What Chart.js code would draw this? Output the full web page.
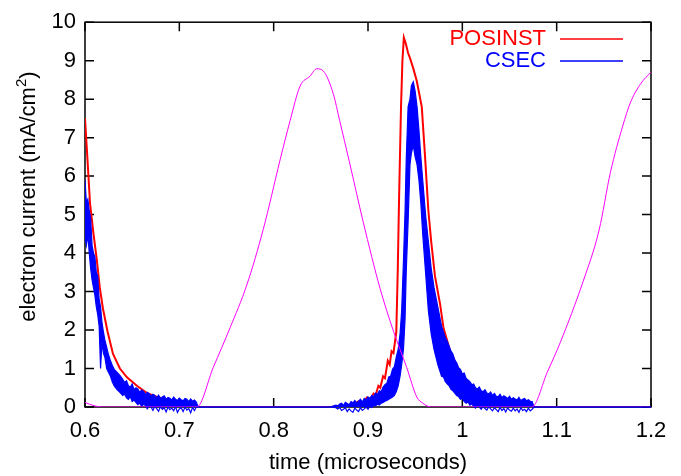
<!DOCTYPE html>
<html>
<head>
<meta charset="utf-8">
<script src="https://cdn.jsdelivr.net/npm/chart.js@4.4.0/dist/chart.umd.min.js"></script>
<style>
  html, body { margin: 0; padding: 0; background: #fff; }
  #wrap { width: 681px; height: 476px; }
</style>
</head>
<body>
<div id="wrap"><canvas id="chart1" width="681" height="476"></canvas></div>
<script>
// x ticks / y ticks
const xTicks = [0.6, 0.7, 0.8, 0.9, 1.0, 1.1, 1.2];
const yTicks = [0, 1, 2, 3, 4, 5, 6, 7, 8, 9, 10];

// POSINST (red)
const posinstTime = [0.6, 0.6027, 0.6053, 0.609, 0.6124, 0.6157, 0.619, 0.624, 0.6297, 0.637, 0.6445, 0.655, 0.6657, 0.678, 0.69, 0.7, 0.7145, 0.72,
  0.86, 0.875, 0.885, 0.89, 0.895, 0.899, 0.902, 0.906, 0.908, 0.911, 0.913, 0.916, 0.918, 0.921, 0.923, 0.925, 0.927, 0.93, 0.9315, 0.933, 0.935, 0.9365, 0.938,
  0.94, 0.9425, 0.9446, 0.948, 0.9517, 0.957, 0.9605, 0.964, 0.967, 0.971, 0.9765, 0.98, 0.987, 0.9977, 1.005, 1.0118, 1.02, 1.0295, 1.047, 1.068, 1.076, 1.2];
const posinstValue = [7.5, 6.4, 5.3, 4.5, 3.85, 3.1, 2.56, 1.95, 1.38, 1.0, 0.77, 0.55, 0.36, 0.25, 0.18, 0.13, 0.1, 0,
  0, 0.03, 0.08, 0.15, 0.12, 0.25, 0.2, 0.35, 0.3, 0.55, 0.5, 0.8, 0.75, 1.2, 1.1, 1.45, 1.4, 1.95, 3.5, 5.5, 7.8, 9.0, 9.6,
  9.45, 9.2, 9.06, 8.8, 8.47, 7.8, 6.5, 5.1, 4.3, 3.4, 2.66, 2.06, 1.46, 0.9, 0.68, 0.48, 0.36, 0.27, 0.18, 0.09, 0, 0];

// CSEC (blue), noisy band: upper and lower edge
const csecTime = [0.6, 0.6015, 0.603, 0.6045, 0.606, 0.6075, 0.609, 0.6105, 0.612, 0.6135, 0.615, 0.6165, 0.618, 0.6195, 0.621, 0.623, 0.625, 0.627, 0.629, 0.631,
  0.634, 0.637,
  0.640, 0.642, 0.644, 0.646, 0.648, 0.650, 0.652, 0.654, 0.656, 0.658, 0.660, 0.662, 0.664, 0.666, 0.668, 0.670, 0.672, 0.674, 0.676, 0.678,
  0.680, 0.682, 0.684, 0.686, 0.688, 0.690, 0.692, 0.694, 0.696, 0.698, 0.700, 0.702, 0.704, 0.706, 0.708, 0.710, 0.712, 0.714, 0.716, 0.718, 0.720,
  0.860, 0.866, 0.868, 0.870, 0.872, 0.874, 0.876, 0.878, 0.880, 0.882, 0.884, 0.886, 0.888, 0.890, 0.892, 0.894, 0.896, 0.898,
  0.900, 0.902, 0.904, 0.906, 0.908, 0.910, 0.912, 0.914, 0.916, 0.918, 0.920, 0.922, 0.924, 0.926, 0.928, 0.930,
  0.932, 0.934, 0.9357, 0.9376, 0.9393, 0.9405, 0.9425,
  0.9445, 0.946, 0.948, 0.95, 0.952, 0.954, 0.956, 0.958, 0.961, 0.964, 0.967, 0.97, 0.974, 0.978,
  0.980, 0.982, 0.984, 0.986, 0.988, 0.990, 0.992, 0.994, 0.996, 0.998, 1.000, 1.002, 1.004, 1.006, 1.008, 1.010, 1.012, 1.014, 1.016, 1.018,
  1.020, 1.022, 1.024, 1.026, 1.028, 1.030, 1.032, 1.034, 1.036, 1.038, 1.040, 1.042, 1.044, 1.046, 1.048, 1.050, 1.052, 1.054, 1.056, 1.058,
  1.060, 1.062, 1.064, 1.066, 1.068, 1.070, 1.072, 1.074, 1.076, 1.2];
const csecHigh = [5.9, 5.3, 5.4, 5.1, 4.9, 4.2, 4.0, 3.9, 3.5, 3.4, 2.8, 2.6, 2.2, 1.95, 1.75, 1.55, 1.35, 1.2, 1.08, 0.98,
  0.9, 0.82,
  0.72, 0.64, 0.68, 0.55, 0.52, 0.6, 0.45, 0.5, 0.47, 0.38, 0.44, 0.41, 0.32, 0.38, 0.35, 0.28, 0.33, 0.3, 0.24, 0.31,
  0.22, 0.26, 0.29, 0.2, 0.25, 0.23, 0.18, 0.26, 0.2, 0.17, 0.23, 0.19, 0.16, 0.22, 0.2, 0.14, 0.21, 0.15, 0.18, 0.13, 0,
  0, 0.05, 0.03, 0.08, 0.1, 0.04, 0.12, 0.09, 0.06, 0.14, 0.11, 0.17, 0.1, 0.15, 0.2, 0.13, 0.22, 0.18,
  0.26, 0.22, 0.3, 0.27, 0.36, 0.33, 0.42, 0.4, 0.52, 0.58, 0.62, 0.78, 0.8, 0.98, 1.05, 1.3,
  1.5, 1.9, 2.5, 3.8, 5.1, 6.4, 7.8,
  8.0, 8.35, 8.45, 8.2, 7.8, 7.2, 6.5, 5.9, 5.0, 4.3, 3.6, 3.1, 2.6, 2.1,
  1.95, 1.8, 1.7, 1.58, 1.45, 1.38, 1.22, 1.15, 1.02, 0.98, 0.86, 0.88, 0.74, 0.7, 0.66, 0.58, 0.6, 0.5, 0.47, 0.52,
  0.42, 0.4, 0.45, 0.36, 0.34, 0.39, 0.3, 0.35, 0.28, 0.27, 0.33, 0.24, 0.29, 0.26, 0.22, 0.28, 0.2, 0.24, 0.21, 0.18,
  0.25, 0.17, 0.2, 0.22, 0.16, 0.19, 0.15, 0.14, 0, 0];
const csecLow = [4.4, 4.2, 4.5, 4.0, 3.6, 3.3, 3.1, 2.9, 2.6, 2.4, 2.1, 1.0, 1.7, 1.4, 1.3, 1.0, 0.9, 0.8, 0.65, 0.55,
  0.45, 0.38,
  0.3, 0.33, 0.24, 0.2, 0.27, 0.14, 0.18, 0.12, 0.06, 0.1, 0.02, 0.07, 0.04, -0.05, 0.03, 0.0, -0.09, 0.02, -0.04, -0.11,
  0.01, -0.06, -0.02, -0.13, 0.0, -0.07, -0.03, -0.1, 0.01, -0.14, -0.05, -0.02, -0.12, 0.0, -0.08, -0.04, -0.15, -0.01, -0.09, 0.0, 0,
  0, -0.02, -0.05, -0.01, -0.09, -0.06, -0.02, -0.12, -0.05, -0.1, -0.14, -0.03, -0.08, -0.12, -0.02, -0.09, -0.05, 0.0,
  -0.06, 0.02, -0.01, 0.04, 0.03, 0.07, 0.05, 0.1, 0.12, 0.15, 0.17, 0.2, 0.23, 0.26, 0.3, 0.4,
  0.55, 0.8, 1.1, 1.5, 2.3, 3.5, 4.8,
  6.3, 6.6, 6.8, 6.5, 6.3, 5.9, 5.3, 4.5, 3.5, 2.5, 1.9, 1.5, 1.1, 0.8,
  0.78, 0.66, 0.6, 0.55, 0.46, 0.42, 0.36, 0.3, 0.27, 0.2, 0.22, 0.14, 0.1, 0.13, 0.05, 0.08, 0.02, -0.03, 0.04, 0.0,
  -0.06, 0.02, -0.04, -0.08, 0.01, -0.05, -0.1, -0.02, -0.07, -0.12, -0.01, -0.09, -0.04, -0.13, -0.02, -0.08, -0.11, -0.03, -0.1, -0.05,
  -0.14, -0.02, -0.09, -0.06, -0.12, -0.03, -0.1, -0.06, 0, 0];

// beam profile (magenta, no legend entry)
const beamTime = [0.6, 0.605, 0.612, 0.62, 0.7184, 0.736, 0.7538, 0.7715, 0.789, 0.8068, 0.8174, 0.828, 0.8386, 0.8457, 0.8527, 0.8633, 0.87, 0.88, 0.895,
  0.9128, 0.927, 0.941, 0.9517, 0.958, 0.967, 1.0736, 1.09, 1.1037, 1.128, 1.145, 1.157, 1.17, 1.178, 1.189, 1.2];
const beamValue = [0.12, 0.07, 0.02, 0, 0, 1.03, 2.06, 3.17, 4.62, 6.42, 7.44, 8.34, 8.6, 8.79, 8.73, 8.13, 7.44, 6.4, 4.8,
  3.08, 1.97, 1.03, 0.26, 0.1, 0, 0, 0.9, 1.67, 3.26, 4.6, 6.1, 7.3, 7.9, 8.4, 8.7];

const FONT = "'Liberation Sans', Arial, Helvetica, sans-serif";

function toPoints(xs, ys) {
  return xs.map((x, i) => ({ x: x, y: ys[i] }));
}

// gnuplot-like frame with inward ticks on all four sides
const framePlugin = {
  id: "frame",
  beforeDatasetsDraw(chart) {
    const { ctx, chartArea, scales } = chart;
    const a = chartArea;
    ctx.save();
    ctx.strokeStyle = "#000";
    ctx.lineWidth = 1.5;
    ctx.strokeRect(a.left, a.top, a.right - a.left, a.bottom - a.top);
    ctx.beginPath();
    xTicks.forEach((t) => {
      const px = scales.x.getPixelForValue(t);
      ctx.moveTo(px, a.bottom);
      ctx.lineTo(px, a.bottom - 9);
      ctx.moveTo(px, a.top);
      ctx.lineTo(px, a.top + 9);
    });
    yTicks.forEach((t) => {
      const py = scales.y.getPixelForValue(t);
      ctx.moveTo(a.left, py);
      ctx.lineTo(a.left + 9, py);
      ctx.moveTo(a.right, py);
      ctx.lineTo(a.right - 9, py);
    });
    ctx.stroke();
    ctx.restore();
  },
  afterDraw(chart) {
    const { ctx, chartArea } = chart;
    ctx.save();
    // y axis title with superscript
    ctx.translate(29, (chartArea.top + chartArea.bottom) / 2 - 18);
    ctx.rotate(-Math.PI / 2);
    ctx.fillStyle = "#000";
    ctx.textBaseline = "middle";
    const main = "electron current (mA/cm";
    ctx.font = "22px " + FONT;
    const w1 = ctx.measureText(main).width;
    ctx.font = "15px " + FONT;
    const w2 = ctx.measureText("2").width;
    ctx.font = "22px " + FONT;
    const w3 = ctx.measureText(")").width;
    let x0 = -(w1 + w2 + w3) / 2;
    ctx.textAlign = "left";
    ctx.fillText(main, x0, 0);
    ctx.font = "15px " + FONT;
    ctx.fillText("2", x0 + w1, -7);
    ctx.font = "22px " + FONT;
    ctx.fillText(")", x0 + w1 + w2, 0);
    ctx.restore();

    // legend: text right aligned, line sample on the right
    const legend = [
      { label: chart.data.datasets[1].label, color: "#ff0000", y: 39 },
      { label: chart.data.datasets[2].label, color: "#0000ff", y: 61 },
    ];
    ctx.save();
    ctx.font = "22px " + FONT;
    ctx.textAlign = "right";
    ctx.textBaseline = "middle";
    legend.forEach((l) => {
      ctx.fillStyle = l.color;
      ctx.fillText(l.label, 546, l.y);
      ctx.strokeStyle = l.color;
      ctx.lineWidth = 1.5;
      ctx.beginPath();
      ctx.moveTo(560, l.y);
      ctx.lineTo(623, l.y);
      ctx.stroke();
    });
    ctx.restore();
  },
};

const ctx1 = document.getElementById("chart1").getContext("2d");
const chart1 = new Chart(ctx1, {
  type: "line",
  data: {
    datasets: [
      {
        label: "beam",
        data: toPoints(beamTime, beamValue),
        borderColor: "#ff00ff",
        borderWidth: 1,
        pointRadius: 0,
        cubicInterpolationMode: "monotone",
        fill: false,
      },
      {
        label: "POSINST",
        data: toPoints(posinstTime, posinstValue),
        borderColor: "#ff0000",
        borderWidth: 2,
        pointRadius: 0,
        fill: false,
        order: 2,
      },
      {
        label: "CSEC",
        data: toPoints(csecTime, csecHigh),
        borderColor: "#0000ff",
        backgroundColor: "#0000ff",
        borderWidth: 1.2,
        pointRadius: 0,
        fill: "+1",
        clip: { left: 0, top: 0, right: 0, bottom: 8 },
        order: 1,
      },
      {
        label: "CSEC low",
        data: toPoints(csecTime, csecLow),
        borderColor: "#0000ff",
        borderWidth: 1.2,
        pointRadius: 0,
        fill: false,
        clip: { left: 0, top: 0, right: 0, bottom: 8 },
        order: 1,
      },
    ],
  },
  options: {
    responsive: false,
    animation: false,
    devicePixelRatio: 1,
    layout: { padding: { top: 17, right: 30, left: 0, bottom: 0 } },
    plugins: {
      legend: { display: false },
      tooltip: { enabled: false },
      filler: { drawTime: "beforeDatasetDraw" },
    },
    scales: {
      x: {
        type: "linear",
        min: 0.6,
        max: 1.2,
        afterFit: (scale) => { scale.height = 69; },
        afterBuildTicks: (scale) => { scale.ticks = xTicks.map((v) => ({ value: v })); },
        grid: { display: false, drawTicks: false },
        border: { display: false },
        ticks: {
          color: "#000",
          font: { family: FONT, size: 22 },
          padding: 11,
          maxRotation: 0,
          callback: (v) => String(Math.round(v * 10) / 10),
        },
        title: {
          display: true,
          text: "time (microseconds)",
          color: "#000",
          font: { family: FONT, size: 22 },
          padding: { top: 0, bottom: 0 },
        },
      },
      y: {
        type: "linear",
        min: 0,
        max: 10,
        afterFit: (scale) => { scale.width = 85; },
        afterBuildTicks: (scale) => { scale.ticks = yTicks.map((v) => ({ value: v })); },
        grid: { display: false, drawTicks: false },
        border: { display: false },
        ticks: {
          color: "#000",
          font: { family: FONT, size: 22 },
          padding: 9,
        },
      },
    },
  },
  plugins: [framePlugin],
});
</script>
</body>
</html>
